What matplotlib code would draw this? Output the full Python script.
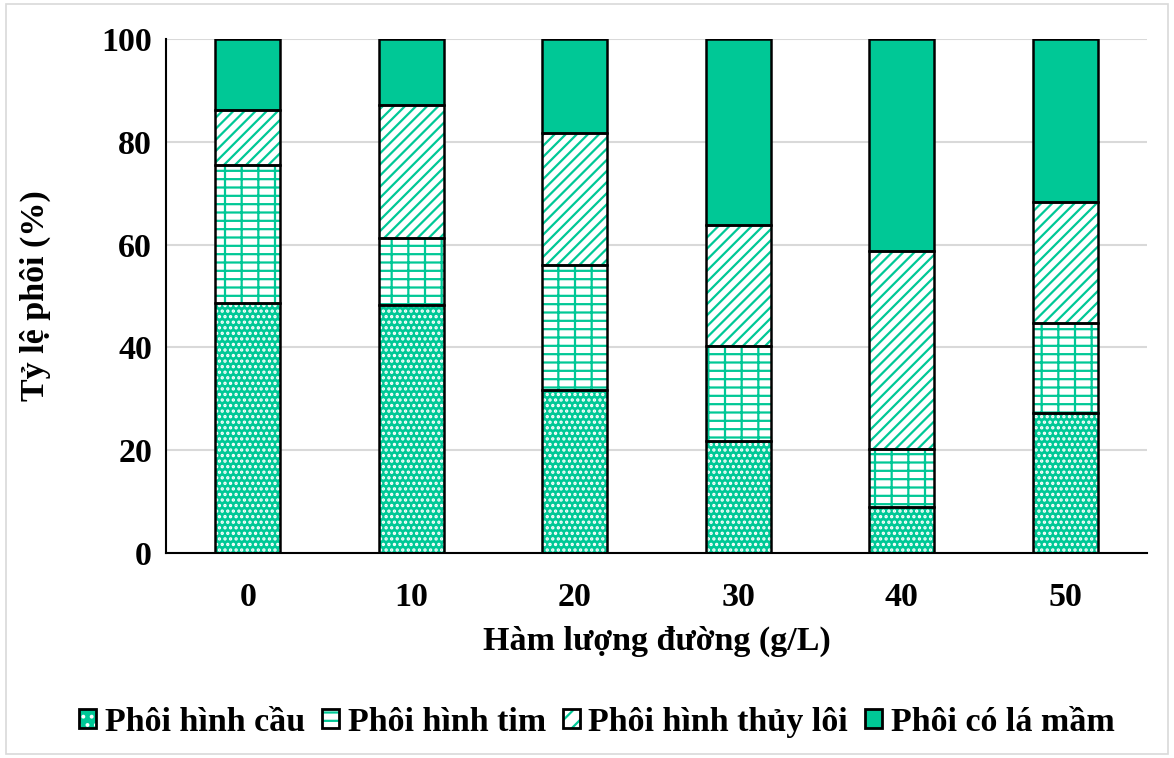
import matplotlib
matplotlib.use("Agg")
import matplotlib.pyplot as plt
from matplotlib.patches import Rectangle, Patch
from matplotlib.legend_handler import HandlerTuple
import numpy as np

categories = ["0", "10", "20", "30", "40", "50"]
cau = [48.7, 48.3, 31.8, 21.8, 9.0, 27.3]
tim = [26.7, 12.9, 24.3, 18.4, 11.3, 17.5]
thuyloi = [10.8, 25.9, 25.6, 23.7, 38.4, 23.4]
lamam = [13.8, 12.9, 18.3, 36.1, 41.3, 31.8]
series_names = ["Phôi hình cầu", "Phôi hình tim", "Phôi hình thủy lôi", "Phôi có lá mầm"]
yticks = [0, 20, 40, 60, 80, 100]

green = "#00C896"
plt.rcParams["font.family"] = ["Liberation Serif", "DejaVu Serif"]
plt.rcParams["font.weight"] = "bold"
plt.rcParams["hatch.linewidth"] = 1.6
FS = 24.5

fig = plt.figure(figsize=(11.74, 7.58), dpi=100)
ax = fig.add_axes([0.1414, 0.2705, 0.9770 - 0.1414, 0.9485 - 0.2705])

x = np.arange(len(categories))
w = 0.4
series = [cau, tim, thuyloi, lamam]
# style: (face, hatchcolor, hatch)
styles = [(green, "white", "..."), ("white", green, "--|"), ("white", green, "///"), (green, None, None)]
bottom = np.zeros(len(x))
for vals, (fc, hc, h) in zip(series, styles):
    vals = np.array(vals)
    ax.bar(x, vals, w, bottom=bottom, color=fc, linewidth=0, zorder=2)
    if h:
        ax.bar(x, vals, w, bottom=bottom, color="none", edgecolor=hc, hatch=h, linewidth=0, zorder=3)
    ax.bar(x, vals, w, bottom=bottom, color="none", edgecolor="black", linewidth=1.8, zorder=4)
    bottom += vals

ax.set_xlim(-0.5, 5.5)
ax.set_ylim(0, 100)
ax.set_yticks(yticks)
ax.set_yticklabels([str(t) for t in yticks], fontsize=FS, fontweight="bold")
ax.set_xticks(x)
ax.set_xticklabels(categories, fontsize=FS, fontweight="bold")
ax.tick_params(axis="y", length=0, pad=10)
ax.tick_params(axis="x", length=0, pad=21)
ax.yaxis.grid(True, color="#d9d9d9", linewidth=1.5, zorder=0)
ax.set_axisbelow(True)
for s in ["top", "right"]:
    ax.spines[s].set_visible(False)
ax.spines["left"].set_linewidth(1.5)
ax.spines["bottom"].set_linewidth(1.5)
ax.set_ylabel("Tỷ lệ phôi (%)", fontsize=FS, fontweight="bold", labelpad=36)
ax.set_xlabel("Hàm lượng đường (g/L)", fontsize=FS, fontweight="bold", labelpad=9)

handles = []
for name, (fc, hc, h) in zip(series_names, styles):
    parts = [Patch(facecolor=fc, edgecolor="none", linewidth=0)]
    if h:
        parts.append(Patch(facecolor="none", edgecolor=hc, hatch=h[:2], linewidth=0))
    parts.append(Patch(facecolor="none", edgecolor="black", linewidth=2))
    handles.append(tuple(parts))
leg = fig.legend(handles=handles, labels=series_names, loc="center", bbox_to_anchor=(0.5085, 0.047), ncol=4,
                 frameon=False, prop={"size": FS, "weight": "bold"},
                 handler_map={tuple: HandlerTuple(ndivide=1, pad=0)},
                 handlelength=0.5, handleheight=0.5, handletextpad=0.25, columnspacing=0.5)

fig.patches.append(Rectangle((0.005, 0.005), 0.99, 0.99, transform=fig.transFigure,
                             fill=False, edgecolor="#d9d9d9", linewidth=1.2))
fig.savefig("out.png", dpi=100)
